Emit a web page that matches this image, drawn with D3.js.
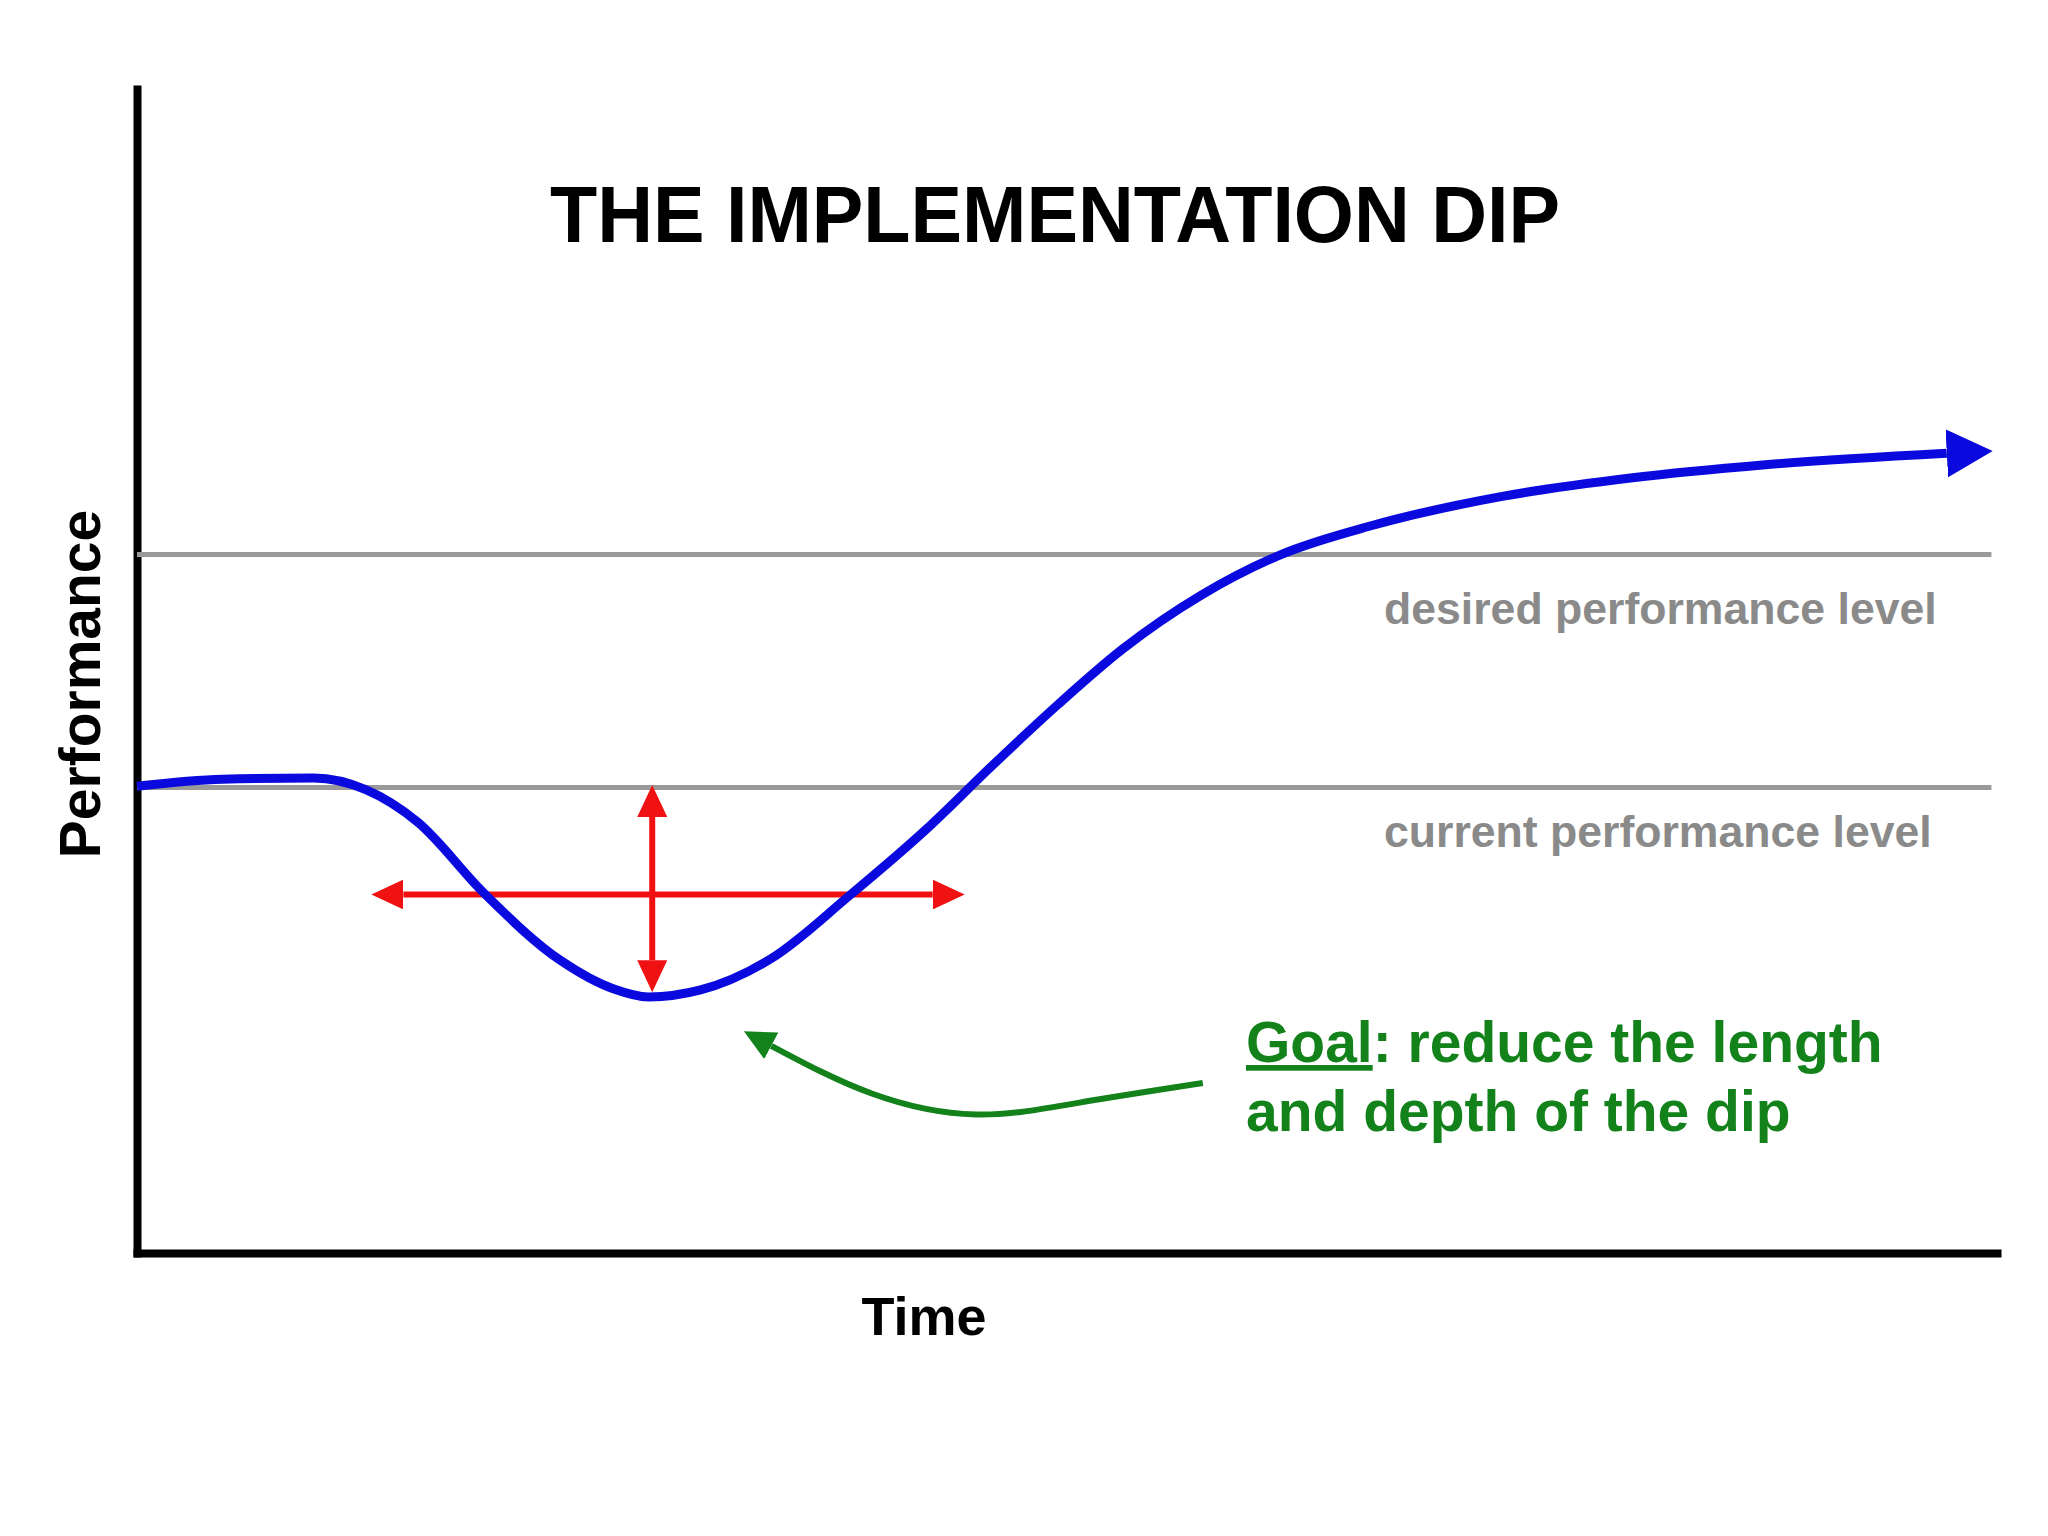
<!DOCTYPE html>
<html>
<head>
<meta charset="utf-8">
<script src="https://cdn.jsdelivr.net/npm/d3@7"></script>
<style>
  body { margin: 0; background: #fff; }
  text { font-family: 'Liberation Sans', Arial, sans-serif; font-weight: bold; }
</style>
</head>
<body>
<div id="chart"></div>
<script>
// performance curve, time and performance both on a 0-100 scale
var curveTime = [0, 4.6, 9.5, 12.3, 15.1, 18.6, 22.8, 25.6, 27.5, 30.3, 34.1, 38.3,
                 42.5, 46.0, 49.5, 53.0, 57.2, 61.5, 66.4, 73.4, 80.4, 87.4, 97.3];
var curvePerf = [40.1, 40.7, 40.8, 39.8, 37.0, 31.0, 25.1, 22.7, 22.0, 22.6, 25.3, 30.7,
                 36.5, 41.9, 47.1, 51.9, 56.5, 60.0, 62.5, 65.0, 66.6, 67.7, 68.7];
// reference levels
var levelNames = ['desired performance level', 'current performance level'];
var levelValues = [60, 40];
// length of the dip (time span) and depth of the dip (performance span)
var dipLengthTime = [12.6, 44.5];
var dipLengthPerf = 30.8;
var dipDepthPerf = [40.2, 22.4];
var dipDepthTime = 27.7;
// goal pointer
var goalTime = [57.3, 50.6, 45.1, 39.5, 34.1];
var goalPerf = [14.6, 12.9, 11.9, 13.7, 17.8];
// texts
var titleText = 'THE IMPLEMENTATION DIP';
var xTitle = 'Time';
var yTitle = 'Performance';
var goalLines = [['Goal', ': reduce the length'], ['', 'and depth of the dip']];

var width = 2048, height = 1536;
var blue = '#0a0ade', red = '#f01212', green = '#13821b', gray = '#9a9a9a';

var xScale = d3.scaleLinear().domain([0, 100]).range([137, 1997]);
var yScale = d3.scaleLinear().domain([0, 100]).range([1253, 89]);

var svg = d3.select('#chart').append('svg')
    .attr('width', width)
    .attr('height', height)
    .style('background', '#fff');

// arrow heads
var defs = svg.append('defs');
function addMarker(id, len, half, color) {
  defs.append('marker')
      .attr('id', id)
      .attr('markerUnits', 'userSpaceOnUse')
      .attr('viewBox', '0 0 ' + len + ' ' + (2 * half))
      .attr('markerWidth', len)
      .attr('markerHeight', 2 * half)
      .attr('refX', 0)
      .attr('refY', half)
      .attr('orient', 'auto-start-reverse')
    .append('path')
      .attr('d', 'M0,0L' + len + ',' + half + 'L0,' + (2 * half) + 'Z')
      .attr('fill', color);
}
addMarker('head-blue', 46, 24, blue);
addMarker('head-red', 32, 15, red);
addMarker('head-green', 31, 15, green);

// axes
var xaxis = d3.axisBottom(xScale).ticks(0).tickSizeOuter(0);
var yaxis = d3.axisLeft(yScale).ticks(0).tickSizeOuter(0);
svg.append('g')
    .attr('transform', 'translate(0,' + yScale(0) + ')')
    .call(xaxis);
svg.append('g')
    .attr('transform', 'translate(' + xScale(0) + ',0)')
    .call(yaxis);
svg.selectAll('.domain')
    .attr('stroke', '#000')
    .attr('stroke-width', 8)
    .attr('stroke-linecap', 'square');

// level lines
svg.selectAll('.level')
  .data(levelValues)
  .enter().append('line')
    .attr('class', 'level')
    .attr('x1', xScale(0))
    .attr('x2', xScale(99.7))
    .attr('y1', d => yScale(d))
    .attr('y2', d => yScale(d))
    .attr('stroke', gray)
    .attr('stroke-width', 5);
svg.selectAll('.level-label')
  .data(levelNames)
  .enter().append('text')
    .attr('class', 'level-label')
    .attr('x', 1384)
    .attr('y', (d, i) => yScale(levelValues[i]) + (i == 0 ? 69 : 60))
    .style('font-size', '44.6px')
    .attr('fill', '#8a8a8a')
    .text(d => d);

// red dip arrows, shortened so the heads sit at the ends
function arrowLine(x1, y1, x2, y2, cut) {
  let dx = x2 - x1, dy = y2 - y1;
  let l = Math.sqrt(dx * dx + dy * dy);
  svg.append('line')
      .attr('x1', x1 + dx / l * cut).attr('y1', y1 + dy / l * cut)
      .attr('x2', x2 - dx / l * cut).attr('y2', y2 - dy / l * cut)
      .attr('stroke', red)
      .attr('stroke-width', 6)
      .attr('marker-start', 'url(#head-red)')
      .attr('marker-end', 'url(#head-red)');
}
arrowLine(xScale(dipLengthTime[0]), yScale(dipLengthPerf),
          xScale(dipLengthTime[1]), yScale(dipLengthPerf), 32);
arrowLine(xScale(dipDepthTime), yScale(dipDepthPerf[0]),
          xScale(dipDepthTime), yScale(dipDepthPerf[1]), 32);

// performance curve
var curve = curveTime.map((t, i) => [t, curvePerf[i]]);
var line = d3.line()
    .x(d => xScale(d[0]))
    .y(d => yScale(d[1]))
    .curve(d3.curveMonotoneX);
svg.append('path')
  .datum(curve)
    .attr('d', line)
    .attr('fill', 'none')
    .attr('stroke', blue)
    .attr('stroke-width', 9)
    .attr('marker-end', 'url(#head-blue)');

// goal pointer
var goal = goalTime.map((t, i) => [t, goalPerf[i]]);
var goalLine = d3.line()
    .x(d => xScale(d[0]))
    .y(d => yScale(d[1]))
    .curve(d3.curveNatural);
svg.append('path')
  .datum(goal)
    .attr('d', goalLine)
    .attr('fill', 'none')
    .attr('stroke', green)
    .attr('stroke-width', 6)
    .attr('marker-end', 'url(#head-green)');

var goalText = svg.selectAll('.goal')
  .data(goalLines)
  .enter().append('text')
    .attr('class', 'goal')
    .attr('x', 1246)
    .attr('y', (d, i) => 1062 + i * 69)
    .style('font-size', '57px')
    .attr('fill', green);
goalText.append('tspan')
    .style('text-decoration', 'underline')
    .text(d => d[0]);
goalText.append('tspan')
    .text(d => d[1]);

// titles
svg.append('text')
    .attr('x', 1055)
    .attr('y', 242)
    .attr('text-anchor', 'middle')
    .attr('textLength', 1010)
    .attr('lengthAdjust', 'spacingAndGlyphs')
    .style('font-size', '80px')
    .attr('fill', '#000')
    .text(titleText);

svg.append('text')
    .attr('transform', 'translate(100,684) rotate(-90)')
    .attr('text-anchor', 'middle')
    .style('font-size', '57px')
    .attr('fill', '#000')
    .text(yTitle);

svg.append('text')
    .attr('x', 924)
    .attr('y', 1335)
    .attr('text-anchor', 'middle')
    .style('font-size', '54px')
    .attr('fill', '#000')
    .text(xTitle);
</script>
</body>
</html>
